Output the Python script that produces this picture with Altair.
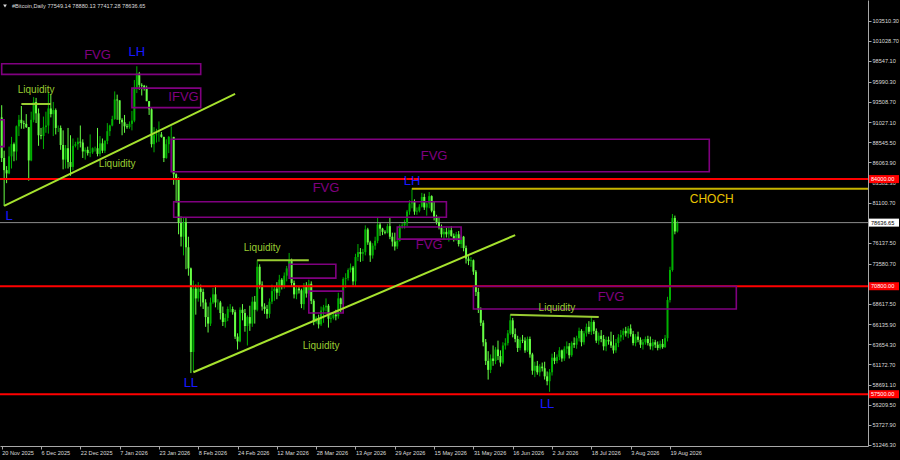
import altair as alt
import numpy as np
import pandas as pd

SYMBOL = "#Bitcoin,Daily"
START = "2025-11-20"
FIRST_OPEN_K = 91.6

# Daily closes, highs and lows (thousands of USD); each open is the prior close.
close_k = [
    86.6, 85.1, 84.7, 86.8, 88.3, 87.4, 90.5, 91.3, 90.9, 90.8,
    90.4, 86.3, 91.3, 93.5, 92.1, 89.4, 89.3, 90.4, 90.6, 92.7,
    92.0, 92.5, 90.3, 90.3, 88.2, 86.4, 87.8, 86.1, 85.5, 88.1,
    88.3, 88.6, 88.5, 87.4, 87.6, 87.2, 87.3, 87.8, 87.8, 87.1,
    88.4, 87.5, 88.7, 89.9, 90.6, 91.4, 93.8, 93.7, 91.3, 91.0,
    90.5, 90.4, 90.8, 91.2, 95.3, 97.0, 95.6, 95.5, 95.1, 93.6,
    92.6, 88.3, 89.4, 89.5, 89.5, 89.2, 86.6, 88.3, 89.2, 89.2,
    84.6, 84.1, 78.6, 76.9, 78.7, 75.6, 73.0, 62.7, 70.5, 69.3,
    70.5, 70.1, 68.8, 67.0, 66.2, 68.8, 69.8, 68.8, 68.8, 67.5,
    66.4, 66.9, 68.0, 68.0, 67.6, 64.6, 64.0, 67.9, 67.5, 65.9,
    67.0, 66.2, 68.9, 67.9, 73.2, 71.0, 68.3, 68.0, 67.4, 68.9,
    70.2, 70.5, 70.0, 71.6, 70.8, 72.1, 73.0, 73.9, 71.2, 69.8,
    70.5, 70.3, 68.6, 70.9, 69.9, 71.1, 69.0, 66.4, 66.9, 66.1,
    67.8, 68.2, 68.4, 66.8, 66.9, 67.3, 67.1, 69.3, 68.6, 71.7,
    71.8, 72.8, 73.1, 71.4, 74.4, 75.0, 74.8, 75.0, 77.8, 76.2,
    74.6, 75.8, 76.4, 78.4, 77.9, 77.5, 77.4, 78.2, 76.9, 76.3,
    75.7, 76.4, 78.2, 78.3, 78.6, 80.0, 81.0, 81.3, 80.0, 80.1,
    80.6, 81.8, 80.5, 81.0, 81.9, 80.1, 79.3, 78.7, 78.0, 77.2,
    77.5, 77.2, 77.7, 77.0, 76.6, 77.2, 76.0, 76.9, 75.5, 74.2,
    73.9, 74.0, 72.6, 70.1, 67.9, 66.3, 63.9, 61.6, 60.5, 61.9,
    61.6, 63.0, 62.2, 61.4, 63.5, 63.8, 65.0, 66.6, 64.9, 64.3,
    63.2, 64.2, 64.1, 62.9, 64.3, 62.4, 60.4, 61.0, 60.2, 60.9,
    60.7, 59.7, 59.1, 60.2, 62.0, 61.6, 62.1, 62.9, 61.9, 63.1,
    63.4, 62.3, 63.8, 63.6, 64.4, 65.3, 63.9, 65.0, 65.8, 65.2,
    66.4, 65.3, 64.1, 64.7, 64.3, 63.4, 64.2, 64.0, 63.5, 62.9,
    63.8, 64.5, 64.8, 65.3, 65.0, 65.6, 64.9, 63.8, 64.6, 64.2,
    63.6, 63.9, 64.3, 63.8, 63.4, 63.9, 63.6, 63.2, 63.7, 63.3,
    64.4, 69.1, 72.8, 79.2, 77.54914, 78.63665,
]
high_k = [
    93.1, 87.5, 85.6, 88.0, 89.2, 88.5, 90.6, 91.9, 93.0, 91.2,
    92.0, 90.4, 92.3, 94.1, 94.0, 92.7, 90.3, 91.7, 92.3, 94.6,
    94.4, 93.5, 92.7, 90.6, 90.6, 90.0, 88.2, 90.3, 89.4, 89.0,
    88.6, 89.1, 90.6, 88.9, 87.9, 88.0, 89.5, 87.9, 88.0, 90.3,
    89.3, 89.0, 88.8, 90.9, 90.7, 91.8, 94.8, 94.4, 93.7, 91.5,
    91.9, 90.8, 91.1, 92.4, 96.2, 97.9, 97.2, 95.8, 95.6, 95.5,
    93.6, 92.8, 90.4, 90.2, 91.1, 89.8, 89.2, 88.9, 89.3, 90.5,
    89.2, 84.7, 84.2, 79.4, 79.3, 79.2, 76.9, 73.1, 71.5, 71.0,
    71.3, 71.0, 70.5, 69.2, 68.3, 69.4, 70.6, 70.9, 69.2, 69.0,
    68.3, 67.4, 68.3, 68.6, 68.3, 67.9, 65.0, 68.2, 68.6, 68.0,
    67.2, 68.4, 69.5, 69.6, 74.0, 73.5, 71.4, 68.7, 68.5, 69.3,
    71.0, 70.8, 71.3, 72.2, 71.8, 72.5, 73.3, 74.9, 74.2, 71.5,
    70.9, 70.8, 70.5, 71.2, 71.3, 71.6, 71.4, 69.2, 67.1, 67.3,
    68.3, 68.5, 69.3, 68.6, 67.4, 67.5, 67.9, 70.0, 69.4, 71.9,
    72.4, 73.0, 73.6, 73.3, 74.8, 76.0, 75.5, 75.4, 78.3, 78.0,
    76.4, 76.1, 76.9, 79.3, 78.6, 78.0, 77.7, 78.5, 79.2, 77.4,
    77.4, 76.8, 78.4, 78.6, 79.0, 80.2, 81.4, 82.9, 81.5, 80.5,
    80.9, 82.3, 82.2, 81.1, 82.4, 82.0, 81.2, 79.6, 79.2, 78.4,
    77.9, 78.0, 78.1, 78.2, 77.3, 77.5, 77.6, 77.1, 77.0, 75.8,
    74.5, 74.4, 74.1, 72.8, 70.6, 68.2, 66.6, 64.3, 62.8, 62.4,
    63.5, 63.3, 64.1, 62.9, 63.9, 64.4, 65.4, 67.3, 66.9, 65.6,
    64.7, 64.5, 64.8, 64.5, 64.6, 64.6, 62.6, 61.5, 61.6, 61.2,
    61.4, 61.5, 60.3, 60.6, 62.5, 62.7, 62.4, 63.3, 63.0, 63.4,
    64.0, 63.8, 64.0, 64.5, 64.7, 65.7, 65.5, 65.3, 66.2, 66.5,
    67.0, 66.6, 65.6, 65.1, 65.4, 64.8, 64.6, 64.6, 65.2, 64.8,
    64.3, 64.9, 65.4, 65.6, 65.8, 65.9, 66.1, 65.3, 64.9, 65.2,
    64.5, 64.3, 64.6, 64.7, 64.6, 64.3, 64.2, 64.0, 64.1, 64.3,
    64.8, 69.5, 73.2, 79.7, 79.5, 78.88013,
]
low_k = [
    86.1, 80.7, 83.5, 84.6, 85.3, 86.2, 86.3, 89.3, 90.2, 90.2,
    90.3, 83.8, 86.2, 91.0, 90.9, 88.1, 88.9, 87.7, 89.7, 89.6,
    91.6, 89.3, 89.5, 89.8, 87.6, 85.2, 85.3, 85.3, 84.4, 85.1,
    87.9, 87.6, 87.9, 86.6, 86.4, 86.9, 86.7, 87.1, 87.4, 86.8,
    86.8, 87.2, 87.2, 88.3, 89.3, 90.5, 91.3, 91.3, 90.8, 89.4,
    89.7, 90.2, 90.2, 90.0, 91.0, 94.6, 95.0, 94.3, 94.9, 93.6,
    91.9, 87.9, 87.3, 88.5, 88.6, 89.1, 86.1, 86.5, 87.2, 88.8,
    83.3, 81.1, 77.2, 75.7, 74.6, 72.9, 72.1, 60.1, 60.3, 67.3,
    68.9, 68.3, 68.0, 65.8, 65.1, 65.9, 68.6, 68.2, 67.9, 66.7,
    65.9, 65.7, 66.5, 67.6, 67.3, 64.3, 63.0, 63.9, 66.6, 65.2,
    63.5, 65.3, 65.8, 66.2, 67.7, 70.5, 67.8, 67.4, 66.8, 66.9,
    68.6, 69.0, 69.2, 69.6, 70.4, 70.5, 71.4, 72.6, 70.8, 69.3,
    69.2, 69.9, 68.1, 67.9, 69.4, 69.6, 68.6, 66.0, 66.2, 65.6,
    65.9, 66.3, 67.7, 65.7, 66.3, 66.7, 66.6, 66.8, 67.6, 68.5,
    70.6, 71.5, 72.5, 70.9, 70.8, 73.9, 73.8, 73.9, 74.6, 75.9,
    73.8, 74.2, 75.3, 76.1, 77.0, 77.1, 77.2, 77.3, 76.6, 75.7,
    75.2, 75.4, 76.3, 77.9, 77.9, 78.2, 79.6, 80.4, 79.6, 79.6,
    79.9, 80.5, 80.2, 79.5, 80.4, 79.9, 78.9, 78.4, 77.8, 76.8,
    76.6, 76.8, 76.3, 76.9, 76.3, 76.4, 75.7, 75.5, 75.1, 73.6,
    73.4, 73.2, 72.2, 69.6, 67.5, 65.9, 63.4, 61.1, 59.3, 60.1,
    61.0, 61.2, 61.7, 60.9, 61.2, 63.0, 63.5, 64.8, 64.5, 63.9,
    62.7, 62.9, 63.8, 62.6, 62.7, 62.0, 59.9, 59.6, 59.9, 59.7,
    60.3, 59.3, 58.6, 57.8, 59.8, 61.2, 61.3, 61.7, 61.5, 61.6,
    62.5, 61.9, 62.1, 63.2, 63.1, 64.0, 63.4, 63.6, 64.6, 64.9,
    64.8, 64.9, 63.8, 63.6, 63.9, 62.9, 62.8, 63.6, 63.2, 62.5,
    62.6, 63.3, 64.0, 64.2, 64.6, 64.4, 64.6, 63.5, 63.4, 63.9,
    63.2, 63.0, 63.6, 63.5, 63.0, 62.9, 63.2, 62.9, 63.0, 63.1,
    63.2, 64.0, 68.8, 72.6, 77.2, 77.41728,
]

# Horizontal key levels and the price-scale tick values
level_prices = [84000.0, 70800.0, 57500.0]
price_ticks = [103510.30, 101028.70, 98547.10, 95990.30, 93508.70, 91027.10,
               88545.50, 86063.90, 83582.30, 81100.70, 76137.50, 73580.70,
               68617.50, 66135.90, 63654.30, 61172.70, 58691.10, 56209.50,
               53727.90, 51246.30]

# Fair-value-gap zones (dates and price bounds in thousands)
box_start = ["2025-11-20", "2026-01-12", "2025-11-17", "2026-01-28", "2026-01-29",
             "2026-04-30", "2026-03-17", "2026-03-25", "2026-05-31"]
box_end = ["2026-02-09", "2026-02-09", "2025-11-21", "2026-09-04", "2026-05-20",
           "2026-05-26", "2026-04-05", "2026-04-08", "2026-09-15"]
box_top_k = [98.2, 95.2, 91.3, 88.9, 81.2, 78.1, 73.5, 70.2, 70.8]
box_bottom_k = [96.9, 92.8, 88.0, 84.9, 79.3, 76.6, 71.8, 67.5, 68.0]

# Trendlines, liquidity lines and the change-of-character level
seg_start = ["2025-11-21", "2026-02-06", "2025-11-28", "2026-03-04", "2026-06-15", "2026-05-06"]
seg_end = ["2026-02-23", "2026-06-17", "2025-12-10", "2026-03-25", "2026-07-21", "2026-12-31"]
seg_p0_k = [80.7, 60.2, 93.25, 74.0, 67.3, 82.8]
seg_p1_k = [94.5, 77.1, 93.25, 74.0, 67.0, 82.8]
seg_kind = ["trend", "trend", "liq", "liq", "liq", "choch"]

# Text annotations
label_text = ["FVG", "LH", "IFVG", "Liquidity", "Liquidity", "L", "FVG", "FVG", "LH",
              "FVG", "Liquidity", "LL", "Liquidity", "FVG", "Liquidity", "LL", "CHOCH"]
label_date = ["2025-12-29", "2026-01-14", "2026-02-02", "2025-12-04", "2026-01-06",
              "2025-11-23", "2026-05-15", "2026-04-01", "2026-05-06", "2026-05-13",
              "2026-03-06", "2026-02-05", "2026-03-30", "2026-07-26", "2026-07-04",
              "2026-06-30", "2026-09-05"]
label_price_k = [99.3, 99.6, 94.1, 95.0, 85.9, 79.4, 86.85, 82.9, 83.75, 75.9,
                 75.5, 58.9, 63.45, 69.5, 68.1, 56.3, 81.55]
label_kind = ["fvg", "swing", "fvg", "liq", "liq", "swing", "fvg", "fvg", "swing",
              "fvg", "liq", "swing", "liq", "fvg", "liq", "swing", "choch"]

# ---- styling -------------------------------------------------------------
BG = "#000000"
BULL = "#00b000"
BEAR = "#66ff44"
AXIS_GREY = "#a8a8a8"
TEXT_GREY = "#dcdcdc"
FONT = "Liberation Sans"
SEG_STYLE = {"trend": "#a6e22e", "liq": "#9acd32", "choch": "#c8b400"}
LABEL_STYLE = {"fvg": ("#800080", 13), "swing": ("#1818ff", 13),
               "liq": ("#9acd32", 10), "choch": ("#e8c300", 12)}

W, H = 868, 446
t0 = pd.Timestamp(START)


def day(s):
    return (pd.Timestamp(s) - t0).days


n = len(close_k)
dates = pd.date_range(START, periods=n, freq="D")
open_k = [FIRST_OPEN_K] + close_k[:-1]
bars = pd.DataFrame({
    "day": np.arange(n),
    "open": np.array(open_k) * 1000,
    "high": np.array(high_k) * 1000,
    "low": np.array(low_k) * 1000,
    "close": np.array(close_k) * 1000,
})

boxes = pd.DataFrame({
    "day": [day(s) for s in box_start], "day_end": [day(s) for s in box_end],
    "price": np.array(box_top_k) * 1000, "price_end": np.array(box_bottom_k) * 1000,
})
segs = pd.DataFrame({
    "day": [day(s) for s in seg_start], "day_end": [day(s) for s in seg_end],
    "price": np.array(seg_p0_k) * 1000, "price_end": np.array(seg_p1_k) * 1000,
    "kind": seg_kind,
})
labels = pd.DataFrame({
    "text": label_text, "day": [day(s) for s in label_date],
    "price": np.array(label_price_k) * 1000, "kind": label_kind,
})

last = bars.iloc[-1]
last_close = float(last["close"])

# ---- scales and axes -----------------------------------------------------
X_SCALE = alt.Scale(domain=[-0.69, 352.6], nice=False, zero=False)
Y_SCALE = alt.Scale(domain=[51120, 106060], nice=False, zero=False)

tick_days = list(range(0, n, 16))
tick_names = [f"{d.day} {d:%b %Y}" for d in dates[tick_days]]
label_expr = "[" + ",".join(repr(s) for s in tick_names) + "][round(datum.value / 16)]"

x_axis = alt.Axis(values=tick_days, labelExpr=label_expr, title=None, grid=False,
                  orient="bottom", labelAlign="left", labelBaseline="top",
                  labelFont=FONT, labelFontSize=5.6, labelColor=TEXT_GREY,
                  tickColor=AXIS_GREY, tickSize=3, domainColor=AXIS_GREY,
                  labelPadding=1, labelOverlap=False, labelFlush=False)
y_axis = alt.Axis(values=price_ticks, format=".2f", title=None, grid=False,
                  orient="right", labelAlign="left", labelBaseline="middle",
                  labelFont=FONT, labelFontSize=5.6, labelColor=TEXT_GREY,
                  tickColor=AXIS_GREY, tickSize=3, domainColor=AXIS_GREY,
                  labelPadding=1, labelOverlap=False, labelFlush=False)

X = alt.X("day:Q", scale=X_SCALE, axis=x_axis, title=None)
candle_color = alt.condition("datum.close >= datum.open", alt.value(BULL), alt.value(BEAR))


def px(field="price"):
    return alt.Y(f"{field}:Q", scale=Y_SCALE, axis=y_axis, title=None)


# ---- candles -------------------------------------------------------------
base = alt.Chart(bars)
wicks = base.mark_rule(strokeWidth=1).encode(
    x=X, y=px("low"), y2="high:Q", color=candle_color,
)
bodies = base.mark_rule(strokeWidth=2).encode(
    x=X, y=px("open"), y2="close:Q", color=candle_color,
)

# current price line (behind candles)
price_line = alt.Chart(pd.DataFrame({"price": [last_close]})).mark_rule(
    color="#8c8c8c", strokeWidth=1
).encode(y=px())

# ---- annotations ---------------------------------------------------------
levels = alt.Chart(pd.DataFrame({"price": level_prices})).mark_rule(
    color="#ff0000", strokeWidth=2
).encode(y=px())

zones = alt.Chart(boxes).mark_rect(
    fillOpacity=0, stroke="#800080", strokeWidth=1.6, clip=True
).encode(x=X, x2="day_end:Q", y=px(), y2="price_end:Q")

seg_layers = []
for kind, col in SEG_STYLE.items():
    seg_layers.append(
        alt.Chart(segs[segs["kind"] == kind]).mark_rule(
            color=col, strokeWidth=2, clip=True
        ).encode(x=X, x2="day_end:Q", y=px(), y2="price_end:Q")
    )

text_layers = []
for kind, (col, size) in LABEL_STYLE.items():
    text_layers.append(
        alt.Chart(labels[labels["kind"] == kind]).mark_text(
            color=col, fontSize=size, font=FONT, align="center", baseline="middle"
        ).encode(x=X, y=px(), text="text:N")
    )

# ---- price tags in the scale gutter -------------------------------------
level_tags = pd.DataFrame({"price": level_prices, "t": [f"{v:.2f}" for v in level_prices]})
red_tag = alt.Chart(level_tags).mark_rule(color="#ff0000", strokeWidth=8).encode(
    x=alt.value(W + 1), x2=alt.value(W + 31), y=px())
red_tag_txt = alt.Chart(level_tags).mark_text(
    color="#ffffff", fontSize=5.6, font=FONT, align="left", baseline="middle"
).encode(x=alt.value(W + 3), y=px(), text="t:N")

cur_tag_df = pd.DataFrame({"price": [last_close], "t": [f"{last_close:.2f}"]})
cur_tag = alt.Chart(cur_tag_df).mark_rule(color="#ffffff", strokeWidth=8).encode(
    x=alt.value(W + 1), x2=alt.value(W + 31), y=px())
cur_tag_txt = alt.Chart(cur_tag_df).mark_text(
    color="#000000", fontSize=5.6, font=FONT, align="left", baseline="middle"
).encode(x=alt.value(W + 3), y=px(), text="t:N")

# ---- header line ---------------------------------------------------------
header = (f"{SYMBOL}  {last['open']:.2f} {last['high']:.2f} "
          f"{last['low']:.2f} {last['close']:.2f}")
head_df = pd.DataFrame({"t": [header]})
head_txt = alt.Chart(head_df).mark_text(
    color=TEXT_GREY, fontSize=5.6, font=FONT, align="left", baseline="middle"
).encode(x=alt.value(12), y=alt.value(6), text="t:N")
head_icon = alt.Chart(head_df).mark_point(
    shape="triangle-down", filled=True, color=TEXT_GREY, size=14, opacity=1
).encode(x=alt.value(5), y=alt.value(6))

chart = alt.layer(
    wicks, price_line, bodies, levels, zones, *seg_layers, *text_layers,
    red_tag, red_tag_txt, cur_tag, cur_tag_txt, head_icon, head_txt,
).properties(
    width=W, height=H,
    padding={"left": 0, "top": 0, "right": 32, "bottom": 14},
    autosize=alt.AutoSizeParams(type="none"),
).configure(background=BG).configure_view(strokeWidth=0)

chart.save("out.html", embed_options={"renderer": "svg", "actions": False})
